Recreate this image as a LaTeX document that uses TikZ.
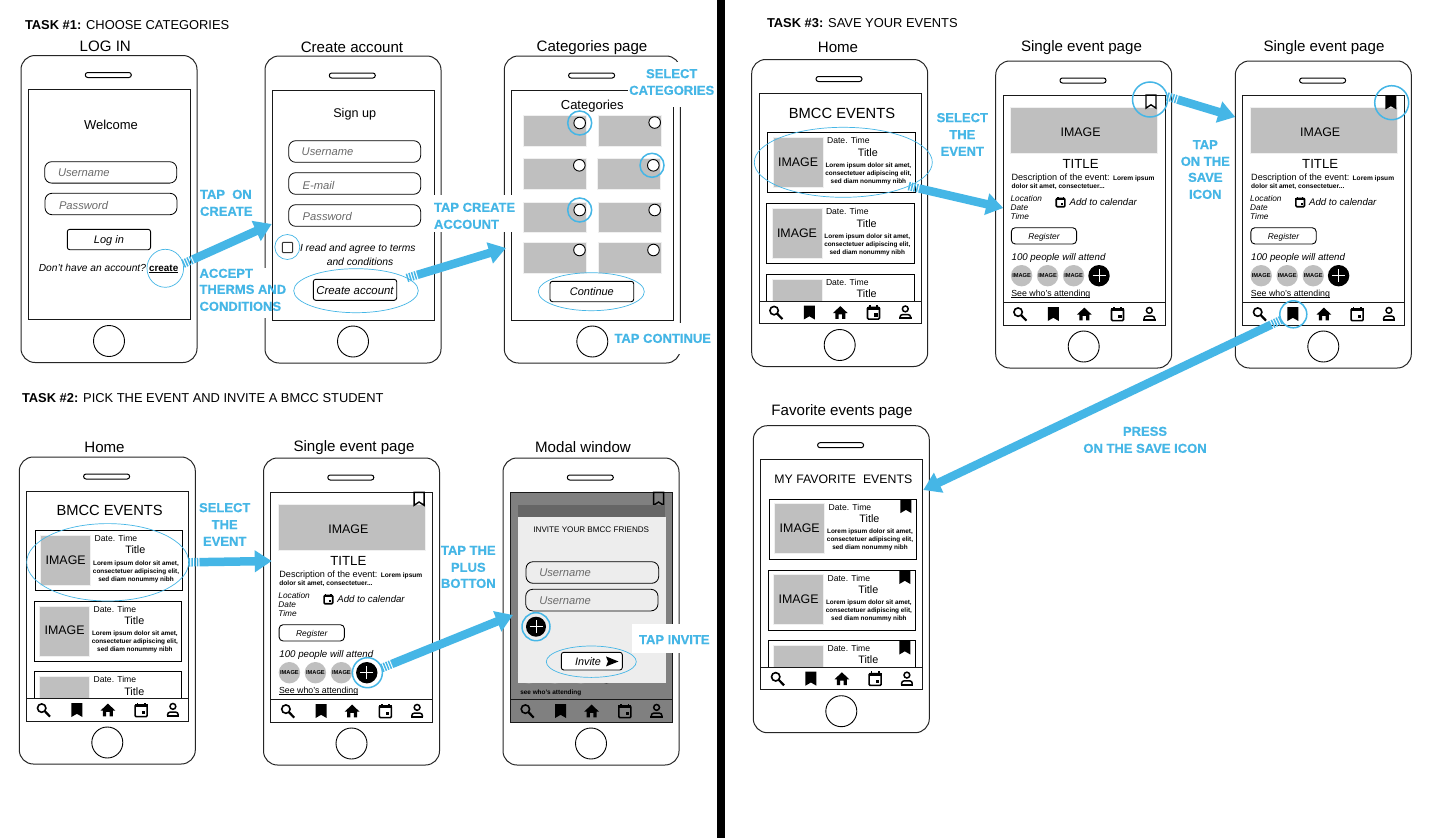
\documentclass[tikz,border=0pt]{standalone}
\usepackage{fontspec}
\setmainfont{Liberation Sans}
\newfontfamily\cuefont[UprightFont=* Bold,UprightFeatures={FakeBold=0.6}]{Liberation Sans}
\usetikzlibrary{arrows.meta,calc,shapes.geometric}
\definecolor{cue}{HTML}{45B6E6}
\definecolor{tilegray}{HTML}{BFBFBF}
\definecolor{ph}{HTML}{6A6A6A}
\newcommand\fz[1]{\fontsize{#1}{#1}\selectfont}
\newsavebox\ulbox
\newcommand\ul[1]{\sbox\ulbox{#1}\rlap{\rule[-1.1pt]{\wd\ulbox}{.55pt}}#1}
\tikzset{
  x=1pt,y=-1pt,
  every node/.style={inner sep=0pt,outer sep=0pt},
  phonebody/.style={draw=black!85,line width=1pt,fill=white,rounded corners=14pt,minimum width=176pt,minimum height=307pt,anchor=north west},
  screenbox/.style={draw=black!90,line width=1pt,fill=white,minimum width=162pt,minimum height=230pt,anchor=north west},
  speaker/.style={draw=black,line width=1pt,rounded corners=2.4pt,minimum width=46pt,minimum height=5pt},
  homebtn/.style={draw=black,line width=.9pt,circle,minimum size=31pt},
  ctr/.style={anchor=mid,align=center,yshift=-1.4pt},
  lft/.style={anchor=mid west,yshift=-1.4pt},
  ctrs/.style={anchor=mid,align=center,yshift=-.6pt},
  lfts/.style={anchor=mid west,yshift=-.6pt},
  ttl/.style={anchor=mid,node font=\fz{15.1},yshift=-2pt},
  cuelab/.style={text=cue,node font=\cuefont\fz{13},align=center},
  field/.style={draw=black,line width=.8pt,rounded corners=7pt,anchor=north west},
  pbtn/.style={draw=black,line width=.9pt,rounded corners=2.5pt,anchor=north west},
  phtext/.style={anchor=mid west,text=ph,node font=\itshape\fz{11.2},yshift=-1.4pt},
  btext/.style={anchor=mid,node font=\itshape\fz{11},yshift=-1.2pt},
  ringthin/.style={draw=cue,line width=.7pt,ellipse},
  ringthick/.style={draw=cue,line width=1.5pt,circle},
  tile/.style={fill=tilegray,draw=black!6,line width=.5pt,anchor=north west},
  pick/.style={draw=black,fill=white,line width=.9pt,circle,minimum size=11.6pt},
  cuestripe/.style={draw=cue,line width=8.5pt,dash pattern=on 1.5pt off 1.2pt on 1.5pt off 1.2pt on 1.5pt off 1.2pt on 1.5pt off 1.2pt},
  cueshaft/.style={draw=cue,line width=8.5pt,-{Triangle[length=17pt,width=21pt]}},
  whitebox/.style={fill=white,anchor=north west},
}
\newcommand\lab[5]{\node[#2,name=#1] at (#3,#4) {#5};}
\newcommand\phone[6]{%
  \node[phonebody,name=#1] at (#2,#3) {};
  \node[screenbox,name=#1-screen] at ([shift={(7.3,34)}]#1.north west) {};
  \node[speaker,name=#1-speaker] at ([shift={(87.3,19.5)}]#1.north west) {};
  \node[homebtn,name=#1-home] at ([shift={(88,285.5)}]#1.north west) {};
  \lab{#1-title}{ttl}{#5}{#6}{#4}
}
\newcommand\icsearch[2]{\begin{scope}[shift={(#1,#2)}]
  \draw[line width=1.6pt] (-1.9,-1.9) circle (4.2);
  \draw[line width=2.2pt] (1,1) -- (6.4,6.6);
\end{scope}}
\newcommand\icbook[2]{\begin{scope}[shift={(#1,#2)}]
  \fill (-5.5,-7) -- (5.5,-7) -- (5.5,7) -- (0,3.8) -- (-5.5,7) -- cycle;
\end{scope}}
\newcommand\icbookline[2]{\begin{scope}[shift={(#1,#2)}]
  \draw[line width=1.4pt,line join=miter] (-5,-6.5) -- (5,-6.5) -- (5,6.5) -- (0,3.2) -- (-5,6.5) -- cycle;
\end{scope}}
\newcommand\ichome[2]{\begin{scope}[shift={(#1,#2)}]
  \fill (-7.4,0.6) -- (0,-6.4) -- (7.4,0.6) -- (5,0.6) -- (5,6.4) -- (1.8,6.4) -- (1.8,1.8) -- (-1.8,1.8) -- (-1.8,6.4) -- (-5,6.4) -- (-5,0.6) -- cycle;
\end{scope}}
\newcommand\iccal[2]{\begin{scope}[shift={(#1,#2)}]
  \draw[line width=1.6pt,rounded corners=1pt] (-6,-5) rectangle (6,6.6);
  \fill (-6.6,-5.6) rectangle (6.6,-2.6);
  \fill (-4.4,-7.4) rectangle (-2.8,-4);
  \fill (2.8,-7.4) rectangle (4.4,-4);
  \fill (0.8,0.8) rectangle (4,4);
\end{scope}}
\newcommand\icperson[2]{\begin{scope}[shift={(#1,#2)}]
  \draw[line width=1.5pt] (0,-3.6) circle (2.9);
  \draw[line width=1.5pt,rounded corners=2.2pt] (-5.2,5.8) -- (-5.2,2.2) -- (5.2,2.2) -- (5.2,5.8);
  \fill (-6.2,4.9) rectangle (6.2,6.8);
\end{scope}}
\newcommand\navbar[1]{%
  \node[draw=black!90,line width=1pt,minimum width=162pt,minimum height=22.3pt,anchor=south west,name=#1-nav] at (#1-screen.south west) {};
  \begin{scope}[shift={(#1-screen.north west)}]
    \icsearch{17}{219}\icbook{50.3}{219}\ichome{81.3}{219}\iccal{114.5}{219}\icperson{146.3}{219}
  \end{scope}
}
\def\imgword{IMAGE}
\newcommand\evcard[4]{%
  \node[draw=black,line width=.9pt,minimum width=147.5pt,minimum height=60pt,anchor=north west,name=#1] at (#2,#3) {};
  \node[tile,minimum width=50pt,minimum height=50pt,name=#1-img] at ([shift={(5.3,4.5)}]#1.north west) {};
  \path ([shift={(30.3,29)}]#1.north west) node[ctr,node font=\fz{12.4},name=#1-imgtx] {\imgword};
  \path ([shift={(59.3,7.4)}]#1.north west) node[lft,node font=\fz{8.6},name=#1-date] {Date. Time};
  \path ([shift={(100,19)}]#1.north west) node[ctr,node font=\fz{10.8},name=#1-head] {Title};
  \path ([shift={(100.6,32.4)}]#1.north west) node[ctrs,node font=\bfseries\fz{6.4},name=#1-l1] {Lorem ipsum dolor sit amet,};
  \path ([shift={(100.6,40.4)}]#1.north west) node[ctrs,node font=\bfseries\fz{6.4},name=#1-l2] {consectetuer adipiscing elit,};
  \path ([shift={(100.6,48.4)}]#1.north west) node[ctrs,node font=\bfseries\fz{6.4},name=#1-l3] {sed diam nonummy nibh};
  #4
}
\newcommand\evlist[5]{%
  \begin{scope}[shift={(#1-screen.north west)}]
    \lab{#1-head}{ctr,node font=\fz{#5}}{#3}{19.3}{#2}
    \evcard{#1-c1}{8.8}{39.4}{#4}
    \evcard{#1-c2}{7.7}{110.3}{#4}
    \begin{scope}
      \clip (0,0) rectangle (162,207.7);
      \def\imgword{}
      \evcard{#1-c3}{7.7}{180.8}{#4}
    \end{scope}
  \end{scope}
}
\newcommand\cardmark[1]{\begin{scope}[shift={(#1.north west)}]\icbook{136.5}{7}\end{scope}}
\newcommand\evpage[1]{%
  \begin{scope}[shift={(#1-screen.north west)}]
    \node[tile,minimum width=146.7pt,minimum height=46pt,name=#1-hero] at (7.6,12) {};
    \lab{#1-heroimg}{ctr,node font=\fz{12.4}}{77.6}{37}{IMAGE}
    \lab{#1-evt}{ctr,node font=\fz{13.2}}{77.6}{69}{TITLE}
    \lab{#1-d1}{lfts}{8.6}{82.3}{\fz{9.1}Description of the event: \bfseries\fz{6.6}Lorem ipsum}
    \lab{#1-d2}{lfts,node font=\bfseries\fz{6.6}}{8.6}{90.7}{dolor sit amet, consectetuer...}
    \lab{#1-loc}{lfts,node font=\itshape\fz{8.3}}{7.6}{104}{Location}
    \lab{#1-dat}{lfts,node font=\itshape\fz{8.3}}{7.6}{113}{Date}
    \lab{#1-tim}{lfts,node font=\itshape\fz{8.3}}{7.6}{122}{Time}
    \begin{scope}[scale=.72]\iccal{80}{148.6}\end{scope}
    \lab{#1-add}{lft,node font=\itshape\fz{9.6}}{66.6}{106.7}{Add to calendar}
    \node[pbtn,minimum width=65.3pt,minimum height=16.3pt,rounded corners=4pt,name=#1-reg] at (8.3,132.7) {};
    \path (#1-reg.center) node[ctr,node font=\itshape\fz{8.4},name=#1-regt] {Register};
    \lab{#1-ppl}{lft,node font=\itshape\fz{9.7}}{8.6}{161.3}{100 people will attend}
    \node[circle,fill=tilegray,minimum size=21.4pt,name=#1-a1] at (18.6,180.7) {};
    \node[circle,fill=tilegray,minimum size=21.4pt,name=#1-a2] at (44.6,180.7) {};
    \node[circle,fill=tilegray,minimum size=21.4pt,name=#1-a3] at (70.6,180.7) {};
    \path (#1-a1.center) node[ctrs,node font=\bfseries\fz{5.7},name=#1-a1t] {IMAGE};
    \path (#1-a2.center) node[ctrs,node font=\bfseries\fz{5.7},name=#1-a2t] {IMAGE};
    \path (#1-a3.center) node[ctrs,node font=\bfseries\fz{5.7},name=#1-a3t] {IMAGE};
    \node[circle,fill=black,minimum size=21.4pt,name=#1-plus] at (96,180.7) {};
    \draw[white,line width=1pt] (89.5,180.7) -- (102.5,180.7) (96,174.2) -- (96,187.2);
    \lab{#1-see}{lfts,node font=\fz{8.8}}{8.3}{198.7}{\ul{See who's attending}}
  \end{scope}
}
\newcommand\flow[2]{%
  \path #1 coordinate (fa) #2 coordinate (fb);
  \draw[cuestripe] (fa) -- ($(fa)!11pt!(fb)$);
  \draw[cueshaft] ($(fa)!11pt!(fb)$) -- (fb);
}
\begin{document}
\begin{tikzpicture}
\useasboundingbox (0,0) rectangle (1433,838);
\fill[white] (0,0) rectangle (1433,838);

% ---------- divider
\node[fill=black,minimum width=8pt,minimum height=838pt,anchor=north west,name=divider] at (717,0) {};

% ---------- task headings
\lab{task1}{lft,node font=\fz{12.9}}{25}{25}{\textbf{TASK \#1:} CHOOSE CATEGORIES}
\lab{task2}{lft,node font=\fz{12.9}}{22}{398}{\textbf{TASK \#2:} PICK THE EVENT AND INVITE A BMCC STUDENT}
\lab{task3}{lft,node font=\fz{12.9}}{767}{23}{\textbf{TASK \#3:} SAVE YOUR EVENTS}

% ---------- TASK 1 phones
\phone{login}{21}{55.5}{LOG IN}{105.3}{45.5}
\lab{login-welcome}{ctr,node font=\fz{13}}{111}{124.3}{Welcome}
\node[field,minimum width=132pt,minimum height=21.4pt,name=login-user] at (44.7,161.7) {};
\node[field,minimum width=132pt,minimum height=21.4pt,name=login-pass] at (45,193.3) {};
\lab{login-ut}{phtext}{58}{172.5}{Username}
\lab{login-pt}{phtext}{59}{205.5}{Password}
\node[pbtn,minimum width=83.3pt,minimum height=20.4pt,name=login-btn] at (67.3,229.3) {};
\path (login-btn.center) node[btext,name=login-btnt] {Log in};
\lab{login-ask}{anchor=mid east,yshift=-1pt,node font=\itshape\fz{10.2}}{146}{268}{Don't have an account?}
\lab{login-create}{ctr,yshift=.4pt,node font=\bfseries\fz{9.9}}{163.7}{268}{\ul{create}}
\node[ringthin,minimum width=36.6pt,minimum height=38pt,name=ring-create] at (165.3,268.3) {};

\phone{signup}{265}{56}{Create account}{352}{46.5}
\lab{signup-h}{ctr,node font=\fz{12.6}}{354.7}{112.7}{Sign up}
\node[field,minimum width=132pt,minimum height=21.6pt,name=signup-user] at (288.7,140.7) {};
\node[field,minimum width=132pt,minimum height=21.6pt,name=signup-mail] at (288.7,172.7) {};
\node[field,minimum width=132pt,minimum height=21.6pt,name=signup-pass] at (288.7,204.7) {};
\lab{signup-ut}{phtext}{301.7}{151.5}{Username}
\lab{signup-mt}{phtext}{302.7}{185.5}{E-mail}
\lab{signup-pt}{phtext}{302.7}{216.5}{Password}
\node[draw=black!80,line width=1pt,rounded corners=1pt,minimum size=10.4pt,name=signup-check] at (287.5,247.5) {};
\node[ringthin,circle,minimum size=25pt,name=ring-check] at (287.3,247) {};
\lab{signup-terms}{lft,node font=\itshape\fz{10.3}}{300}{247}{I read and agree to terms}
\lab{signup-terms2}{ctr,node font=\itshape\fz{10.3}}{360}{261}{and conditions}
\node[pbtn,minimum width=83.4pt,minimum height=21pt,name=signup-btn] at (313.3,279.3) {};
\path (signup-btn.center) node[btext,node font=\itshape\fz{11.4},name=signup-btnt] {Create account};
\node[ringthin,minimum width=124.6pt,minimum height=44pt,name=ring-signup] at (356,290.7) {};

\phone{cats}{504.3}{56}{Categories page}{592}{46}
\lab{cats-h}{ctr,node font=\fz{13}}{592.3}{104.7}{Categories}
\node[tile,minimum width=63pt,minimum height=31.6pt,name=tile11] at (523.7,115) {};
\node[tile,minimum width=62.7pt,minimum height=31.6pt,name=tile12] at (598.3,115) {};
\node[tile,minimum width=63pt,minimum height=31.3pt,name=tile21] at (523,158) {};
\node[tile,minimum width=62.7pt,minimum height=31.3pt,name=tile22] at (597.6,158) {};
\node[tile,minimum width=63pt,minimum height=30.7pt,name=tile31] at (523.7,202) {};
\node[tile,minimum width=62.7pt,minimum height=30.7pt,name=tile32] at (598.3,202) {};
\node[tile,minimum width=63pt,minimum height=31.3pt,name=tile41] at (523.7,242) {};
\node[tile,minimum width=62.7pt,minimum height=31.3pt,name=tile42] at (598.3,242) {};
\node[pick,name=pick11] at (579.7,123) {};
\node[pick,name=pick12] at (654.7,122.5) {};
\node[pick,name=pick21] at (579.3,165.3) {};
\node[pick,name=pick22] at (653.3,165.3) {};
\node[pick,name=pick31] at (579.7,210) {};
\node[pick,name=pick32] at (654.7,210) {};
\node[pick,name=pick41] at (579.5,250) {};
\node[pick,name=pick42] at (653.5,250) {};
\node[ringthick,minimum size=24pt,name=ring-p11] at (579.7,123) {};
\node[ringthick,minimum size=24pt,name=ring-p22] at (652,165.3) {};
\node[ringthick,minimum size=24pt,name=ring-p31] at (579.7,210) {};
\node[pbtn,minimum width=83.7pt,minimum height=20.4pt,name=cats-btn] at (550,281.3) {};
\path (cats-btn.center) node[btext,name=cats-btnt] {Continue};
\node[ringthin,minimum width=106pt,minimum height=38pt,name=ring-cats] at (591.3,291.7) {};

% ---------- TASK 2 phones
\phone{home2}{19.3}{457}{Home}{104.5}{447}
\evlist{home2}{BMCC EVENTS}{83}{}{14.7}
\navbar{home2}
\node[ringthin,minimum width=162pt,minimum height=77.4pt,name=ring-home2] at (107.7,562.3) {};

\phone{event2}{263.5}{458}{Single event page}{354}{446}
\evpage{event2}
\navbar{event2}
\begin{scope}[shift={(event2-screen.north west)}]\icbookline{148.3}{6.8}\end{scope}
\node[ringthick,minimum size=30pt,name=ring-plus] at (367.4,672.7) {};

\phone{modal}{503}{458}{Modal window}{583}{447}
\node[fill=black!50,minimum width=161pt,minimum height=229pt,name=modal-shade] at (modal-screen.center) {};
\begin{scope}[shift={(modal-screen.north west)}]
  \icbookline{148.3}{6.8}
  \node[circle,fill=black!60,draw=black!35,line width=.6pt,minimum size=21.4pt,name=modal-a1] at (18.6,180.7) {};
  \node[circle,fill=black!60,draw=black!35,line width=.6pt,minimum size=21.4pt,name=modal-a2] at (44.6,180.7) {};
  \node[circle,fill=black!60,draw=black!35,line width=.6pt,minimum size=21.4pt,name=modal-a3] at (70.6,180.7) {};
  \node[circle,fill=black,minimum size=21.4pt,name=modal-a4] at (96,180.7) {};
\end{scope}
\navbar{modal}
\node[fill=black!60,minimum width=147pt,minimum height=12.4pt,anchor=north west,name=modal-head] at (518.3,505) {};
\node[fill=black!7,minimum width=147.4pt,minimum height=165.4pt,anchor=north west,name=modal-sheet] at (518.3,517.3) {};
\lab{modal-see}{lfts,node font=\bfseries\fz{6.4}}{520.3}{692}{see who's attending}
\lab{modal-h}{ctr,node font=\fz{8.1}}{591.3}{529.3}{INVITE YOUR BMCC FRIENDS}
\node[field,minimum width=132.7pt,minimum height=21.6pt,name=modal-u1] at (526,561.7) {};
\node[field,minimum width=132.3pt,minimum height=21.6pt,name=modal-u2] at (525.7,589.3) {};
\lab{modal-u1t}{phtext}{539.3}{572.5}{Username}
\lab{modal-u2t}{phtext}{539.3}{600.5}{Username}
\node[circle,fill=black,minimum size=20pt,name=modal-plus] at (536,626.7) {};
\draw[white,line width=1pt] (529.5,626.7) -- (542.5,626.7) (536,620.2) -- (536,633.2);
\node[ringthick,minimum size=28pt,name=ring-modal] at (536,626.7) {};
\node[pbtn,fill=white,minimum width=61pt,minimum height=17.7pt,name=modal-btn] at (561.3,652.3) {};
\lab{modal-btnt}{btext,node font=\itshape\fz{10.8}}{588}{661.5}{Invite}
\fill (606,656.4) -- (618.5,661.5) -- (606,666.4) -- (608,661.5) -- cycle;
\node[ringthin,minimum width=90pt,minimum height=31.4pt,name=ring-invite] at (591.3,661.7) {};

% ---------- TASK 3 phones
\phone{home3}{751.7}{59.5}{Home}{838}{47}
\evlist{home3}{BMCC EVENTS}{83}{}{14.7}
\navbar{home3}
\node[ringthin,minimum width=178pt,minimum height=70pt,name=ring-home3] at (843.3,162.3) {};

\phone{event3}{995.7}{61}{Single event page}{1081.5}{46}
\evpage{event3}
\navbar{event3}
\begin{scope}[shift={(event3-screen.north west)}]\icbookline{148}{6.6}\end{scope}
\node[ringthick,minimum size=35pt,name=ring-save3] at (1150,99.5) {};

\phone{event4}{1235.3}{61}{Single event page}{1324}{46}
\evpage{event4}
\navbar{event4}
\begin{scope}[shift={(event4-screen.north west)}]\icbook{148.3}{7.4}\end{scope}
\node[ringthick,minimum size=34pt,name=ring-save4] at (1391.7,102.7) {};
\node[ringthick,minimum size=27pt,name=ring-nav4] at (1293.3,314.3) {};

\phone{fav}{753.3}{425.7}{Favorite events page}{842}{410}
\evlist{fav}{MY FAVORITE\ \ EVENTS}{82.7}{}{12.3}
\foreach \c in {fav-c1,fav-c2}{\cardmark{\c}}
\begin{scope}\clip (761,460) rectangle (923,667.3);\cardmark{fav-c3}\end{scope}
\navbar{fav}

% ---------- cue labels with white backing
\node[whitebox,minimum width=72pt,minimum height=50pt,name=back-accept] at (198,268) {};
\node[whitebox,minimum width=84pt,minimum height=37pt,name=back-tapcreate] at (432,195) {};
\node[whitebox,minimum width=88pt,minimum height=45pt,name=back-selectcat] at (628,62) {};
\node[whitebox,minimum width=103pt,minimum height=31pt,name=back-continue] at (613,323) {};
\node[whitebox,minimum width=84pt,minimum height=29pt,name=back-invite] at (632,624) {};

\lab{cue-tapon}{lft,cuelab}{200}{194}{TAP\ \ ON}
\lab{cue-create}{lft,cuelab}{200}{211}{CREATE}
\lab{cue-acc1}{lft,cuelab}{199.5}{273}{ACCEPT}
\lab{cue-acc2}{lft,cuelab}{199.5}{289}{THERMS AND}
\lab{cue-acc3}{lft,cuelab}{199.5}{306}{CONDITIONS}
\lab{cue-tc1}{lft,cuelab}{434}{207}{TAP CREATE}
\lab{cue-tc2}{lft,cuelab}{434}{224}{ACCOUNT}
\lab{cue-sc1}{ctr,cuelab}{671.7}{73.3}{SELECT}
\lab{cue-sc2}{ctr,cuelab}{671.7}{90}{CATEGORIES}
\lab{cue-tapc}{ctr,cuelab}{662.7}{338}{TAP CONTINUE}
\lab{cue-s21}{ctr,cuelab}{224.7}{507.3}{SELECT}
\lab{cue-s22}{ctr,cuelab}{224.7}{524.3}{THE}
\lab{cue-s23}{ctr,cuelab}{224.7}{541}{EVENT}
\lab{cue-p1}{ctr,cuelab}{468.3}{550}{TAP THE}
\lab{cue-p2}{ctr,cuelab}{468.3}{567}{PLUS}
\lab{cue-p3}{ctr,cuelab}{468.3}{583}{BOTTON}
\lab{cue-inv}{ctr,cuelab}{674.3}{639.3}{TAP INVITE}
\lab{cue-s31}{ctr,cuelab}{962.3}{117.3}{SELECT}
\lab{cue-s32}{ctr,cuelab}{962.3}{134.3}{THE}
\lab{cue-s33}{ctr,cuelab}{962.3}{151}{EVENT}
\lab{cue-t1}{ctr,cuelab}{1205.3}{144.3}{TAP}
\lab{cue-t2}{ctr,cuelab}{1205.3}{161}{ON THE}
\lab{cue-t3}{ctr,cuelab}{1205.3}{177}{SAVE}
\lab{cue-t4}{ctr,cuelab}{1205.3}{194}{ICON}
\lab{cue-pr1}{ctr,cuelab}{1145}{431}{PRESS}
\lab{cue-pr2}{ctr,cuelab}{1145}{448}{ON THE SAVE ICON}

% ---------- connectors
\flow{(ring-create.14)}{([shift={(6.7,168)}]signup.north west)}
\flow{(ring-signup.14)}{([shift={(1.7,192)}]cats.north west)}
\flow{(ring-home2.0)}{([shift={(8.2,103)}]event2.north west)}
\flow{(ring-plus.18)}{([shift={(10,157)}]modal.north west)}
\flow{(ring-home3.-20)}{([shift={(7.6,147)}]event3.north west)}
\flow{(ring-save3.10)}{([shift={(0,56)}]event4.north west)}
\flow{(ring-nav4.205)}{([shift={(170,64.3)}]fav.north west)}
\end{tikzpicture}
\end{document}
